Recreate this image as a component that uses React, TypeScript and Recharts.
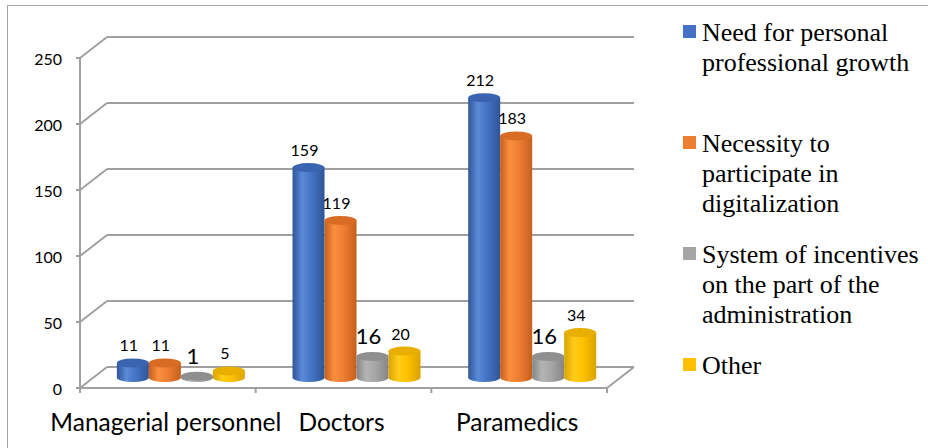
import { BarChart, Bar, XAxis, YAxis, CartesianGrid, LabelList } from 'recharts';

const categories = ['Managerial personnel', 'Doctors', 'Paramedics'];
const growth = [11, 159, 212];
const digital = [11, 119, 183];
const incentives = [1, 16, 16];
const other = [5, 20, 34];
const yTicks = [0, 50, 100, 150, 200, 250];

const seriesNames = [
  'Need for personal professional growth',
  'Necessity to participate in digitalization',
  'System of incentives on the part of the administration',
  'Other',
];

const data = categories.map((name, i) => ({
  name,
  growth: growth[i],
  digital: digital[i],
  incentives: incentives[i],
  other: other[i],
}));

// 3D depth offset: front plane is (-DX, +DY) from bar plane, back wall is (+DX, -DY)
const DX = 13.5;
const DY = 10.5;
const GRID = '#a0a0a0';
const PLOT_W = 527;

const series = [
  { key: 'growth', base: '#4472c4', light: '#5a8ad8', dark: '#2f5597', top: '#3a64b0', labelSize: 16 },
  { key: 'digital', base: '#ed7d31', light: '#fb8f3e', dark: '#c55f1c', top: '#d86c24', labelSize: 16 },
  { key: 'incentives', base: '#a5a5a5', light: '#b4b4b4', dark: '#868686', top: '#8f8f8f', labelSize: 22 },
  { key: 'other', base: '#ffc000', light: '#ffcc19', dark: '#d9a300', top: '#e8ae00', labelSize: 16 },
];

function Cylinder(props: any) {
  const { x, y, width, height, s, index } = props;
  if (width == null || height == null) return null;
  const rx = width / 2;
  const ry = 4.5;
  const id = `grad-${s.key}-${index}`;
  const bottom = y + height;
  const d = `M ${x} ${y} L ${x} ${bottom} A ${rx} ${ry} 0 0 0 ${x + width} ${bottom} L ${x + width} ${y} Z`;
  return (
    <g>
      <defs>
        <linearGradient id={id} x1="0" y1="0" x2="1" y2="0">
          <stop offset="0%" stopColor={s.dark} />
          <stop offset="30%" stopColor={s.light} />
          <stop offset="60%" stopColor={s.base} />
          <stop offset="100%" stopColor={s.dark} />
        </linearGradient>
      </defs>
      <path d={d} fill={`url(#${id})`} />
      <ellipse cx={x + rx} cy={y} rx={rx} ry={ry} fill={s.top} />
    </g>
  );
}

function makeLabel(size: number) {
  return (props: any) => {
    const { x, y, width, value } = props;
    const lift = size > 16 ? 21 : 18;
    return (
      <text
        x={x + width / 2 - 4}
        y={y - lift}
        textAnchor="middle"
        dominantBaseline="central"
        fontSize={size}
        fontFamily="Lato, sans-serif"
        fill="#000"
      >
        {value}
      </text>
    );
  };
}

function GridLine(props: any) {
  const { x1, y1, x2, y2 } = props;
  return (
    <g>
      <line x1={x1 + DX} y1={y1 - DY} x2={x2 + DX} y2={y2 - DY} stroke={GRID} strokeWidth={2} />
      <line x1={x1 - DX} y1={y1 + DY} x2={x1 + DX} y2={y1 - DY} stroke={GRID} strokeWidth={2} />
    </g>
  );
}

function YTick(props: any) {
  const { x, y, payload } = props;
  return (
    <text
      x={x - DX}
      y={y + DY}
      textAnchor="end"
      dominantBaseline="central"
      fontSize={16}
      fontFamily="Lato, sans-serif"
      fill="#000"
    >
      {payload.value}
    </text>
  );
}

function XTick(props: any) {
  const { x, y, payload, index, visibleTicksCount } = props;
  const half = PLOT_W / categories.length / 2;
  const fy = y + DY;
  const last = index === visibleTicksCount - 1;
  return (
    <g>
      <line x1={x - half - DX} y1={fy} x2={x - half - DX} y2={fy + 5} stroke={GRID} strokeWidth={2} />
      {last && (
        <>
          <line x1={x + half - DX} y1={fy} x2={x + half - DX} y2={fy + 5} stroke={GRID} strokeWidth={2} />
          <line x1={x + half - DX} y1={fy} x2={x + half + DX} y2={y - DY} stroke={GRID} strokeWidth={2} />
        </>
      )}
      <text
        x={x - DX - 2}
        y={fy + 33}
        textAnchor="middle"
        dominantBaseline="central"
        fontSize={24.5}
        fontFamily="Lato, sans-serif"
        fill="#000"
      >
        {payload.value}
      </text>
    </g>
  );
}

export default function App() {
  return (
    <div
      style={{
        position: 'fixed',
        left: 0,
        top: 0,
        width: 928,
        height: 448,
        overflow: 'hidden',
        background: '#fff',
      }}
    >
      <div
        style={{
          position: 'absolute',
          left: 7,
          top: 5,
          width: 1000,
          height: 1000,
          border: '1px solid #a6a6a6',
        }}
      />
      <div style={{ position: 'absolute', left: 0, top: 0 }}>
        <BarChart
          width={928}
          height={448}
          data={data}
          margin={{ top: 47.5, right: 307.5, bottom: 40.5, left: 33.5 }}
          barCategoryGap="13.3%"
          barGap={0}
        >
          <CartesianGrid vertical={false} horizontal={(p: any) => <GridLine key={p.key} {...p} />} />
          <XAxis
            dataKey="name"
            height={30}
            tickSize={0}
            tickMargin={0}
            tickLine={false}
            axisLine={{ stroke: GRID, strokeWidth: 2, transform: `translate(${-DX},${DY})` }}
            tick={<XTick />}
            interval={0}
          />
          <YAxis
            width={60}
            domain={[0, 250]}
            ticks={yTicks}
            tickSize={4}
            tickMargin={14}
            axisLine={{ stroke: GRID, strokeWidth: 2, transform: `translate(${-DX},${DY})` }}
            tickLine={{ stroke: GRID, strokeWidth: 2, transform: `translate(${-DX},${DY})` }}
            tick={<YTick />}
          />
          {series.map((s) => (
            <Bar
              key={s.key}
              dataKey={s.key}
              fill={s.base}
              isAnimationActive={false}
              shape={(p: any) => <Cylinder {...p} s={s} />}
            >
              <LabelList dataKey={s.key} content={makeLabel(s.labelSize)} />
            </Bar>
          ))}
        </BarChart>
      </div>
      <div
        style={{
          position: 'absolute',
          left: 683,
          top: 18,
          width: 245,
          fontFamily: "'Liberation Serif', 'DejaVu Serif', 'Noto Serif'",
          fontSize: 26,
          lineHeight: '30px',
          color: '#000',
        }}
      >
        {seriesNames.map((n, i) => (
          <div key={n} style={{ height: 111, display: 'flex', alignItems: 'flex-start' }}>
            <span
              style={{
                width: 13,
                height: 13,
                marginTop: 7,
                marginRight: 6,
                flex: 'none',
                background: series[i].base,
              }}
            />
            <span style={{ width: 226 }}>{n}</span>
          </div>
        ))}
      </div>
    </div>
  );
}
